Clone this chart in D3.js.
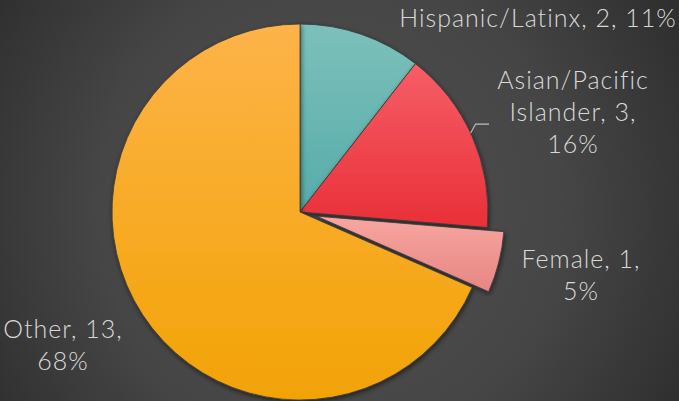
<!DOCTYPE html>
<html>
<head>
<meta charset="utf-8">
<script src="https://cdn.jsdelivr.net/npm/d3@7"></script>
<style>
  html, body { margin: 0; padding: 0; background: #3a3a3a; }
  svg { display: block; }
</style>
</head>
<body>
<div id="chart"></div>
<script>
// chart data
var categories = ["Hispanic/Latinx", "Asian/Pacific Islander", "Female", "Other"];
var values = [2, 3, 1, 13];
var percents = ["11%", "16%", "5%", "68%"];
var exploded = [false, false, true, false];

// label lines, as shown on the chart
var labelLines = [
    ["Hispanic/Latinx, 2, 11%"],
    ["Asian/Pacific", "Islander, 3,", "16%"],
    ["Female, 1,", "5%"],
    ["Other, 13,", "68%"]
];
var labelPos = [[538, 27], [573, 89], [581, 268], [63, 338]];

var colorsTop = ["#7dc0ba", "#f65e66", "#f8a6a1", "#fdb348"];
var colorsBottom = ["#55acaa", "#e92f38", "#e68682", "#f2a305"];

const width = 679, height = 401;
const cx = 300, cy = 212, radius = 188, explode = 17;

var svg = d3.select("#chart")
    .append("svg")
    .attr("width", width)
    .attr("height", height);

var defs = svg.append("defs");

// background radial gradient
var bg = defs.append("radialGradient")
    .attr("id", "bg")
    .attr("gradientUnits", "userSpaceOnUse")
    .attr("cx", 330).attr("cy", 210).attr("r", 420);
bg.append("stop").attr("offset", "0%").attr("stop-color", "#505050");
bg.append("stop").attr("offset", "55%").attr("stop-color", "#464646");
bg.append("stop").attr("offset", "100%").attr("stop-color", "#2c2c2c");

svg.append("rect")
    .attr("width", width)
    .attr("height", height)
    .attr("fill", "url(#bg)");

// slice gradients (top light to bottom darker)
categories.forEach((c, i) => {
    var g = defs.append("linearGradient")
        .attr("id", "slice" + i)
        .attr("x1", 0).attr("y1", 0).attr("x2", 0).attr("y2", 1);
    g.append("stop").attr("offset", "0%").attr("stop-color", colorsTop[i]);
    g.append("stop").attr("offset", "100%").attr("stop-color", colorsBottom[i]);
});

// soft drop shadow
var shadow = defs.append("filter")
    .attr("id", "shadow")
    .attr("x", "-20%").attr("y", "-20%")
    .attr("width", "140%").attr("height", "140%");
shadow.append("feDropShadow")
    .attr("dx", 1).attr("dy", 2)
    .attr("stdDeviation", 2.5)
    .attr("flood-color", "#000")
    .attr("flood-opacity", 0.55);

var pie = d3.pie().sort(null).value(d => d);
var arcs = pie(values);

var arc = d3.arc().innerRadius(0).outerRadius(radius);

var g = svg.append("g")
    .attr("transform", `translate(${cx},${cy})`);

g.selectAll("path.slice")
    .data(arcs)
    .enter()
    .append("path")
    .attr("class", "slice")
    .attr("transform", (d, i) => {
        if (!exploded[i]) return null;
        var mid = (d.startAngle + d.endAngle) / 2;
        return `translate(${Math.sin(mid) * explode},${-Math.cos(mid) * explode})`;
    })
    .attr("d", arc)
    .attr("fill", (d, i) => `url(#slice${i})`)
    .attr("stroke", "#3a3a3a")
    .attr("stroke-width", 0.8)
    .attr("filter", "url(#shadow)");

// leader line for the Asian/Pacific Islander label
var a1 = arcs[1];
var leadAngle = a1.startAngle + (a1.endAngle - a1.startAngle) * 0.48;
var lx = cx + Math.sin(leadAngle) * radius, ly = cy - Math.cos(leadAngle) * radius;
svg.append("polyline")
    .attr("points", `${lx},${ly} ${lx + 5},${ly - 9} ${489},${ly - 9}`)
    .attr("fill", "none")
    .attr("stroke", "#bfbfbf")
    .attr("stroke-width", 1.2);

// data labels
labelLines.forEach((lines, i) => {
    var t = svg.append("text")
        .attr("x", labelPos[i][0])
        .attr("y", labelPos[i][1])
        .attr("text-anchor", "middle")
        .attr("fill", "#d9d9d9")
        .style("font-family", "Lato, 'Noto Sans', sans-serif")
        .style("font-weight", 300)
        .style("font-size", "25px")
        .style("letter-spacing", "1px");
    lines.forEach((line, k) => {
        t.append("tspan")
            .attr("x", labelPos[i][0])
            .attr("dy", k === 0 ? 0 : 32)
            .text(line);
    });
});
</script>
</body>
</html>
